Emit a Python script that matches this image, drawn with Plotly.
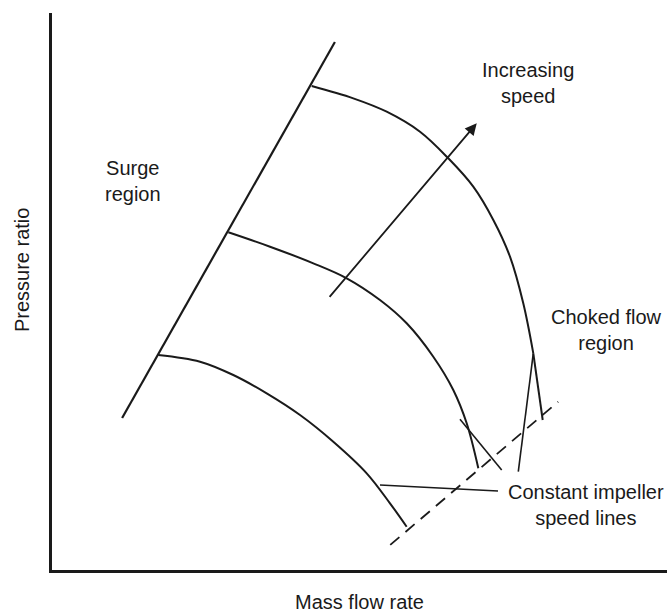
import plotly.graph_objects as go

# Compressor characteristic map (schematic), arbitrary units 0-100 on both axes.

# Surge line
surge_flow = [11.4, 46.0]
surge_pr = [27.3, 94.8]

# Constant impeller speed lines (low, medium, high speed)
low_flow = [17.28, 24.07, 29.48, 34.91, 40.33, 45.74, 51.17, 54.96, 57.67]
low_pr = [38.60, 37.40, 35.01, 31.72, 27.83, 23.03, 17.36, 11.97, 7.77]

mid_flow = [28.67, 35.45, 42.49, 47.92, 53.33, 57.67, 62.00, 65.25, 67.43, 69.32]
mid_pr = [60.63, 58.04, 55.06, 52.37, 48.47, 44.29, 38.29, 32.32, 26.34, 18.26]

high_flow = [42.23, 48.99, 54.42, 59.84, 64.44, 68.50, 71.76, 74.47, 76.63, 78.26]
high_pr = [86.89, 84.68, 82.28, 78.69, 73.91, 68.82, 62.84, 56.25, 47.88, 38.90]

# Steep choked tail of the high speed line
choke_tail_flow = [78.26, 79.79]
choke_tail_pr = [38.90, 26.93]

# Choke line (dashed)
choke_flow = [55.0, 82.3]
choke_pr = [4.5, 30.2]

# "Increasing speed" arrow: tail -> head
arrow_flow = [44.93, 69.06]
arrow_pr = [48.78, 80.20]

# Leader lines from the speed-line label to each curve
leader_low = ([72.52, 53.33], [14.18, 15.26])
leader_mid = ([73.12, 66.34], [17.95, 27.06])
leader_high = ([75.82, 78.26], [17.65, 38.90])

# Text labels: (text, flow, pressure ratio)
labels = [
    ("Surge<br>region", 13.2, 69.8),
    ("Increasing<br>speed", 77.4, 87.4),
    ("Choked flow<br>region", 90.1, 43.1),
    ("Constant impeller<br>speed lines", 86.8, 11.7),
]

INK = "#1a1a1a"
FONT = dict(family="Liberation Sans, Arial, sans-serif", size=20, color=INK)

fig = go.Figure()


def add_line(x, y, width=2.0, dash=None, shape="linear"):
    fig.add_trace(go.Scatter(
        x=x, y=y, mode="lines",
        line=dict(color=INK, width=width, dash=dash, shape=shape, smoothing=1.0),
        hoverinfo="skip", showlegend=False,
    ))


add_line(surge_flow, surge_pr, width=2.2)
add_line(low_flow, low_pr, shape="spline")
add_line(mid_flow, mid_pr, shape="spline")
add_line(high_flow, high_pr, shape="spline")
add_line(choke_tail_flow, choke_tail_pr)
add_line(choke_flow, choke_pr, width=1.8, dash="12px,8px")
for lx, ly in (leader_low, leader_mid, leader_high):
    add_line(lx, ly, width=1.6)

fig.add_annotation(
    x=arrow_flow[1], y=arrow_pr[1], ax=arrow_flow[0], ay=arrow_pr[0],
    xref="x", yref="y", axref="x", ayref="y",
    showarrow=True, arrowhead=2, arrowsize=1.3, arrowwidth=1.8,
    arrowcolor=INK, text="",
)

for text, fx, fy in labels:
    fig.add_annotation(
        x=fx, y=fy, xref="x", yref="y", text=text, showarrow=False,
        font=FONT, align="center",
    )

# Vertical axis title, set a little above the middle of the axis
fig.add_annotation(
    x=-0.049, y=0.54, xref="paper", yref="paper", text="Pressure ratio",
    textangle=-90, showarrow=False, font=FONT,
    xanchor="center", yanchor="middle",
)

axis_common = dict(
    showgrid=False, zeroline=False, showticklabels=False, ticks="",
    showline=True, linecolor=INK, linewidth=2.5,
)

fig.update_xaxes(
    range=[0, 100], **axis_common,
    title=dict(text="Mass flow rate", font=FONT, standoff=24),
)
fig.update_yaxes(range=[0, 100], **axis_common)

fig.update_layout(
    width=667, height=615,
    margin=dict(l=52, r=0, t=13, b=45),
    paper_bgcolor="white", plot_bgcolor="white",
)

fig.write_html("out.html")
